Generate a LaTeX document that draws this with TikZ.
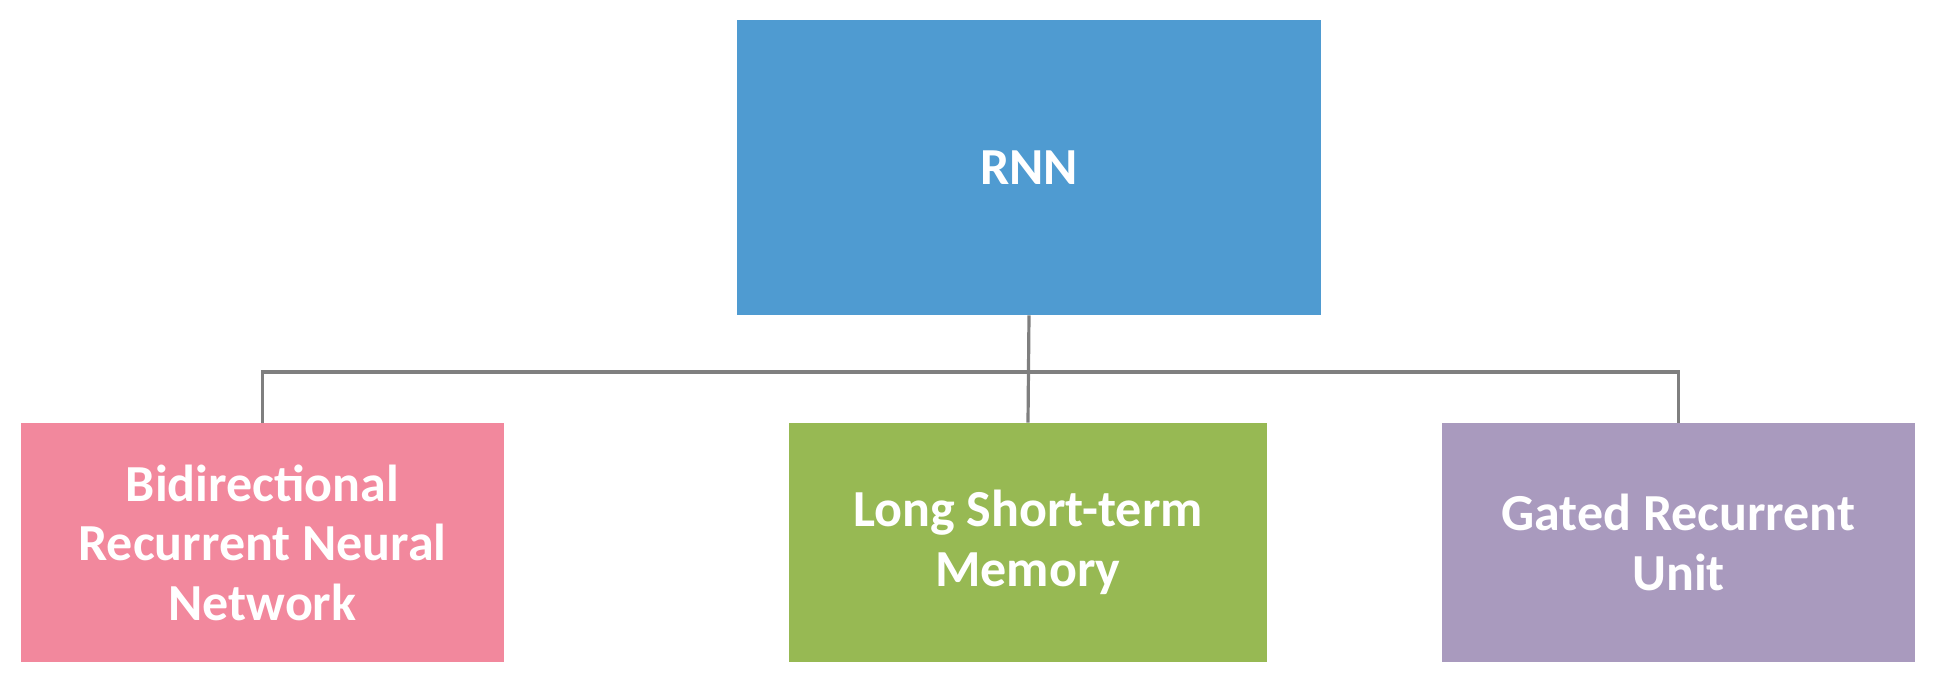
\documentclass[tikz,border=0pt]{standalone}
\usepackage{fontspec}
\setmainfont{Carlito}
\usepackage{tikz}
\usetikzlibrary{positioning}
\definecolor{rnnblue}{RGB}{79,155,209}
\definecolor{brnnpink}{RGB}{242,136,157}
\definecolor{lstmgreen}{RGB}{151,185,83}
\definecolor{grupurple}{RGB}{169,154,190}
\definecolor{forkgray}{RGB}{127,127,127}

\begin{document}
\begin{tikzpicture}[x=0.5pt, y=-0.5pt,
    every node/.style = {shape=rectangle, align=center, text=white,
      inner sep=0pt, font=\fontsize{26}{29.75}\selectfont\bfseries},
    box/.style = {minimum height=119.5pt},
    fork/.style = {draw=forkgray, line width=1.6pt}]
    \useasboundingbox (0,0) rectangle (1935,683);
    \node [fill=rnnblue, minimum width=292pt, minimum height=147.5pt] (rnn) at (1029,167.5) {RNN};
    \node [box, fill=brnnpink, minimum width=241.5pt] (brnn) at (262.5,542.5)
      {Bidirectional\\Recurrent Neural\\Network};
    \node [box, fill=lstmgreen, minimum width=239pt] (lstm) at (1028,542.5)
      {Long Short-term\\Memory};
    \node [box, fill=grupurple, minimum width=236.5pt] (gru) at (1678.5,542.5)
      {Gated Recurrent\\Unit};
    \coordinate (split) at (1028,372);
    % connectors
    \draw [fork] (rnn.south) -- (lstm.north);
    \draw [fork] (brnn.north) |- (split) -| (gru.north);
  \end{tikzpicture}
\end{document}
